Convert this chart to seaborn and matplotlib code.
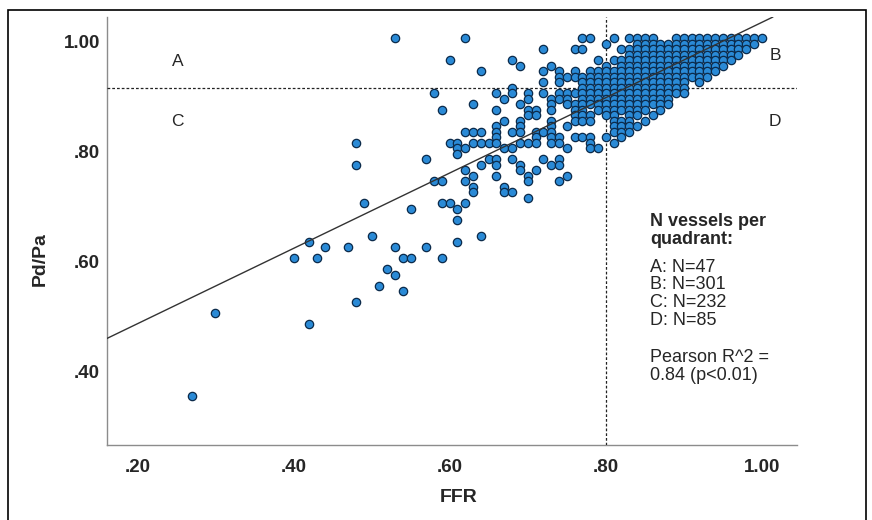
import numpy as np
import pandas as pd
import matplotlib
matplotlib.use("Agg")
import matplotlib.pyplot as plt
import seaborn as sns
from matplotlib.patches import Rectangle
from matplotlib.transforms import ScaledTranslation

# ---- data (values in hundredths): Pd/Pa values seen at each FFR column ----
sparse_cols = {
    27: [35], 30: [50], 40: [60], 42: [63, 48], 43: [60], 44: [62], 47: [62],
    48: [81, 77, 52], 49: [70], 50: [64], 51: [55], 52: [58], 53: [100, 62, 57],
    54: [60, 54], 55: [69, 60], 57: [78, 62], 58: [90, 74], 59: [87, 74, 70, 60],
    60: [96, 81, 70], 61: [81, 80, 79, 69, 67, 63], 62: [100, 83, 80, 76, 74, 70],
}
mid_cols = {
    63: [88, 83, 81, 75, 73, 72], 64: [94, 83, 81, 77, 64], 65: [81, 78],
    66: [90, 87, 84, 83, 82, 81, 78, 77, 75], 67: [89, 85, 80, 73, 72],
    68: [96, 91, 90, 83, 80, 78, 72], 69: [95, 88, 85, 84, 83, 81, 77, 76],
    70: [90, 89, 87, 86, 81, 75, 74, 71], 71: [87, 86, 83, 82, 81, 76],
    72: [98, 94, 92, 90, 83, 78], 73: [95, 89, 88, 87, 85, 84, 83, 82, 81, 77],
    74: [94, 93, 92, 90, 89, 82, 81, 78, 77, 74], 75: [93, 90, 89, 88, 84, 80, 75],
    76: [98, 94, 93, 90, 88, 87, 86, 85, 82],
    77: [100, 98, 93, 92, 91, 90, 89, 88, 87, 86, 85, 82],
    78: [100, 94, 93, 92, 91, 90, 89, 88, 86, 85, 82, 81, 80],
    79: [96, 94, 93, 92, 91, 90, 89, 88, 87, 80],
}
dense_cols = {
    80: [99, 95, 94, 93, 92, 91, 90, 89, 88, 87, 86, 82],
    81: [100, 96, 94, 93, 92, 91, 90, 89, 88, 87, 86, 85, 84, 83, 81],
    82: [98, 96, 95, 94, 93, 92, 91, 90, 89, 88, 87, 85, 84, 83, 82],
    83: [100, 98, 97, 96, 95, 94, 93, 92, 91, 90, 89, 88, 87, 86, 85, 84, 83],
    84: [100, 99, 98, 97, 96, 95, 94, 93, 92, 91, 90, 89, 88, 87, 86, 84],
    85: [100, 99, 98, 97, 96, 95, 94, 93, 92, 91, 90, 89, 88, 87, 85],
    86: [100, 99, 98, 97, 96, 95, 94, 93, 92, 91, 90, 89, 88, 86],
    87: [99, 98, 97, 96, 95, 94, 93, 92, 91, 90, 89, 88, 87],
    88: [99, 98, 97, 96, 95, 94, 93, 92, 91, 90, 89, 88],
    89: [100, 99, 98, 97, 96, 95, 94, 93, 92, 91, 90],
    90: [100, 99, 98, 97, 96, 95, 94, 93, 92, 91, 90],
    91: [100, 99, 98, 97, 96, 95, 94, 93],
    92: [100, 99, 98, 97, 96, 95, 94, 93, 92],
    93: [100, 99, 98, 97, 96, 95, 94, 93],
    94: [100, 99, 98, 97, 96, 95, 94],
    95: [100, 99, 98, 97, 96, 95],
    96: [100, 99, 98, 97, 96],
    97: [100, 99, 98, 97],
    98: [100, 99, 98],
    99: [100, 99],
    100: [100],
}

x_ticks = [0.20, 0.40, 0.60, 0.80, 1.00]
x_tick_labels = [".20", ".40", ".60", ".80", "1.00"]
y_ticks = [0.40, 0.60, 0.80, 1.00]
y_tick_labels = [".40", ".60", ".80", "1.00"]

ffr_cutoff = 0.80
pdpa_cutoff = 0.91
fit_slope = 0.685
fit_intercept = 0.344

quadrant_letters = ["A", "B", "C", "D"]
legend_title = ["N vessels per", "quadrant:"]
legend_counts = ["A: N=47", "B: N=301", "C: N=232", "D: N=85"]
legend_stats = ["Pearson R^2 =", "0.84 (p<0.01)"]

# ---- build table ----
rows = []
for cols in (sparse_cols, mid_cols, dense_cols):
    for f, vals in cols.items():
        for v in vals:
            rows.append((f / 100.0, v / 100.0))
df = pd.DataFrame(rows, columns=["FFR", "Pd/Pa"])

# ---- figure ----
sns.set_theme(style="white")
plt.rcParams["font.family"] = ["Liberation Sans", "DejaVu Sans"]

W, H = 872, 520
fig = plt.figure(figsize=(W / 100, H / 100), dpi=100)
ax = fig.add_axes([107 / W, 1 - 445 / H, (797 - 107) / W, (445 - 17) / H])

ax.set_xlim(0.161, 1.045)
ax.set_ylim(0.2605, 1.0387)

ax.axvline(ffr_cutoff, color="#222222", lw=0.9, ls=(0, (2.2, 1.6)), zorder=3)
ax.axhline(pdpa_cutoff, color="#222222", lw=0.9, ls=(0, (2.2, 1.6)), zorder=3)

sns.scatterplot(data=df, x="FFR", y="Pd/Pa", ax=ax, s=36, color="#2a8ad6",
                edgecolor="#0b2a4a", linewidth=0.9, zorder=4, legend=False)

ax.axline((0.0, fit_intercept), slope=fit_slope, color="#333333", lw=1.0, zorder=5)

ax.set_xticks(x_ticks)
ax.set_xticklabels(x_tick_labels)
ax.set_yticks(y_ticks)
ax.set_yticklabels(y_tick_labels)
ax.tick_params(axis="x", length=0, labelsize=13.5, pad=10)
ax.tick_params(axis="y", length=0, labelsize=13.5, pad=5)
for lab in ax.get_xticklabels() + ax.get_yticklabels():
    lab.set_fontweight("bold")
for lab in ax.get_yticklabels():
    lab.set_transform(lab.get_transform() + ScaledTranslation(0, -3.5 / 100, fig.dpi_scale_trans))

ax.set_xlabel("FFR", fontsize=14, fontweight="bold")
ax.set_ylabel("Pd/Pa", fontsize=14, fontweight="bold")
ax.xaxis.set_label_coords((459 - 107) / 690, -(497 - 445) / 428)
ax.yaxis.set_label_coords((40 - 107) / 690, (445 - 259) / 428)
ax.xaxis.label.set_va("center")
ax.yaxis.label.set_va("center")

for side in ("top", "right"):
    ax.spines[side].set_visible(False)
for side in ("left", "bottom"):
    ax.spines[side].set_color("#8c8c8c")
    ax.spines[side].set_linewidth(1.0)

# quadrant letters
letter_pos = {"A": (178, 61), "B": (775, 55), "C": (177, 121), "D": (775, 122)}
for q in quadrant_letters:
    px, py = letter_pos[q]
    fig.text(px / W, 1 - py / H, q, fontsize=12.5, ha="center", va="center")

# legend block
lx = 650
for i, t in enumerate(legend_title):
    fig.text(lx / W, 1 - (222 + 18 * i) / H, t, fontsize=13, fontweight="bold",
             ha="left", va="center")
for i, t in enumerate(legend_counts):
    fig.text(lx / W, 1 - (267 + 17.8 * i) / H, t, fontsize=13, ha="left", va="center")
for i, t in enumerate(legend_stats):
    fig.text(lx / W, 1 - (357 + 18.5 * i) / H, t, fontsize=13, ha="left", va="center")

# outer frame
fig.patches.append(Rectangle((8 / W, -0.05), (866 - 8) / W, 1.05 - 10 / H,
                             transform=fig.transFigure, fill=False,
                             edgecolor="black", lw=1.2))

fig.savefig("out.png", dpi=100)
